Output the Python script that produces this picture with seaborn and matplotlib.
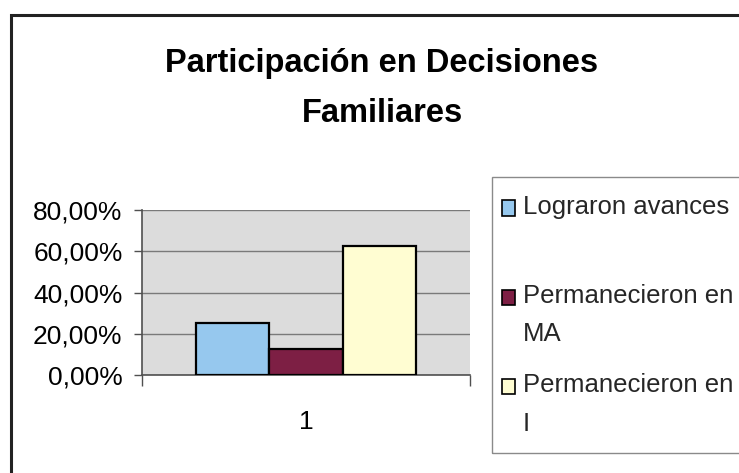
import matplotlib
matplotlib.use("Agg")
import matplotlib.pyplot as plt
from matplotlib.patches import Rectangle, Patch
from matplotlib.legend_handler import HandlerPatch
from matplotlib.ticker import FuncFormatter, FixedLocator
import seaborn as sns
import pandas as pd

# ---- data ----
categorias = ["1"]
series = ["Lograron avances", "Permanecieron en MA", "Permanecieron en I"]
etiquetas_leyenda = ["Lograron avances\n ", "Permanecieron en\nMA", "Permanecieron en\nI"]
valores = [0.25, 0.125, 0.625]
colores = ["#96c8ee", "#7d1f44", "#fffdd2"]
y_ticks = [0.0, 0.2, 0.4, 0.6, 0.8]
titulo_1 = "Participación en Decisiones"
titulo_2 = "Familiares"

df = pd.DataFrame({"grupo": categorias * len(series), "serie": series, "valor": valores})

sns.set_theme(style="white")
plt.rcParams["font.family"] = ["Liberation Sans", "DejaVu Sans"]

W, H = 739, 473
fig = plt.figure(figsize=(W / 100, H / 100), dpi=100)
fig.patch.set_facecolor("white")
ax = fig.add_axes([142 / W, 1 - 375 / H, (470 - 142) / W, (375 - 210) / H])

sns.barplot(data=df, x="grupo", y="valor", hue="serie", hue_order=series,
            palette=dict(zip(series, colores)), width=0.67, dodge=True,
            edgecolor="black", linewidth=1.6, saturation=1, legend=False, ax=ax, zorder=3)

ax.set_facecolor("#dcdcdc")
ax.set_xlim(-0.5, 0.5)
ax.set_ylim(0, 0.8)
ax.set_yticks(y_ticks)
ax.yaxis.set_major_formatter(FuncFormatter(lambda v, p: f"{v*100:.2f}%".replace(".", ",")))
ax.grid(axis="y", color="#7a7a7a", linewidth=1.0, zorder=1)
ax.set_axisbelow(True)
ax.set_xlabel("")
ax.set_ylabel("")
for s in ["top", "right"]:
    ax.spines[s].set_visible(False)
for s in ["left", "bottom"]:
    ax.spines[s].set_color("#505050")
    ax.spines[s].set_linewidth(1.2)
ax.tick_params(axis="y", which="major", left=True, length=6, width=1.0, color="#505050",
               pad=8, labelsize=19, labelcolor="black")
ax.set_xticks([0])
ax.set_xticklabels(categorias)
ax.xaxis.set_minor_locator(FixedLocator([-0.5, 0.5]))
ax.tick_params(axis="x", which="major", bottom=False, length=0, pad=25, labelsize=19, labelcolor="black")
ax.tick_params(axis="x", which="minor", bottom=True, length=8, width=1.0, color="#505050")

# title
fig.text(382 / W, 1 - 72 / H, titulo_1, ha="center", va="baseline", fontsize=23.5,
         fontweight="bold", color="black")
fig.text(382 / W, 1 - 122 / H, titulo_2, ha="center", va="baseline", fontsize=23.5,
         fontweight="bold", color="black")

# outer border and legend frame
fig.patches.append(Rectangle((11 / W, -0.2), 1.2, 1.2 - 15 / H, transform=fig.transFigure,
                             fill=False, edgecolor="#222222", linewidth=2.2))
fig.patches.append(Rectangle((492 / W, 1 - 453 / H), 0.5, (453 - 177) / H,
                             transform=fig.transFigure, fill=False, edgecolor="#8a8a8a", linewidth=1.0))


def top_patch(legend, orig_handle, xdescent, ydescent, width, height, fontsize):
    return Rectangle((-xdescent, -ydescent + 0.72 * fontsize), width, height)


handles = [Patch(facecolor=c, edgecolor="black", linewidth=1.2) for c in colores]
leg = fig.legend(handles, etiquetas_leyenda, loc="upper left",
                 bbox_to_anchor=(502 / W, 1 - 195 / H), frameon=False, fontsize=18.5,
                 borderpad=0, borderaxespad=0, handlelength=0.5, handleheight=0.55,
                 handletextpad=0.3, labelspacing=1.05,
                 handler_map={Patch: HandlerPatch(patch_func=top_patch)})
for t in leg.get_texts():
    t.set_linespacing(1.75)

fig.savefig("out.png", dpi=100)
